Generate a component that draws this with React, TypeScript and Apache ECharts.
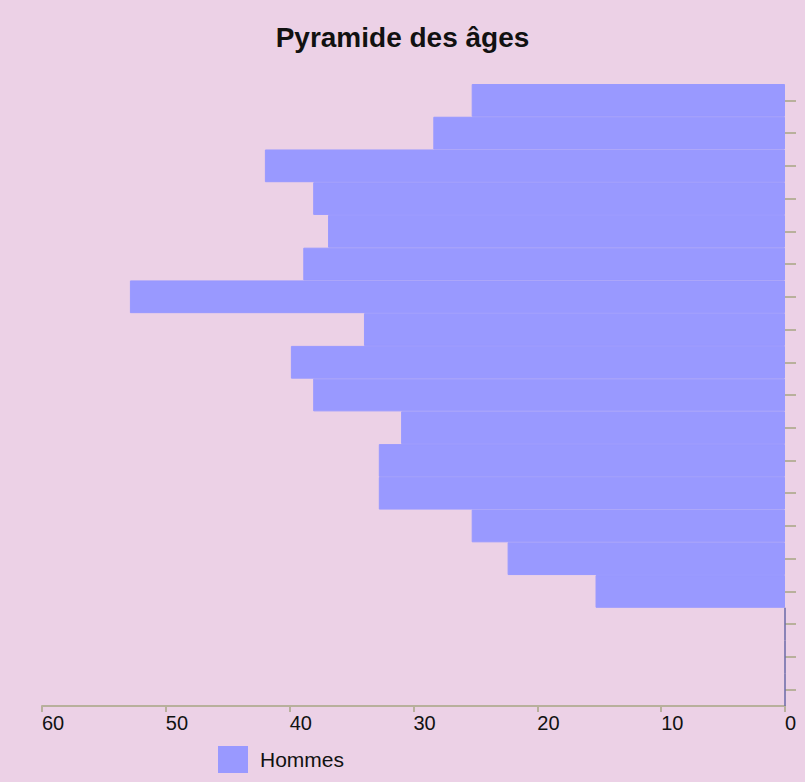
import React, { useEffect, useRef } from "react";
import * as echarts from "echarts";

const ageGroups = [
  "90+", "85-89", "80-84", "75-79", "70-74", "65-69", "60-64", "55-59", "50-54",
  "45-49", "40-44", "35-39", "30-34", "25-29", "20-24", "15-19", "10-14", "5-9", "0-4",
];
const hommes = [25.3, 28.4, 42.0, 38.1, 36.9, 38.9, 52.9, 34.0, 39.9, 38.1, 31.0, 32.8, 32.8, 25.3, 22.4, 15.3, 0, 0, 0];
const xTicks = [0, 10, 20, 30, 40, 50, 60];

const FONT = "Liberation Sans, Arial, sans-serif";

export default function App() {
  const ref = useRef<HTMLDivElement>(null);
  useEffect(() => {
    if (!ref.current) return;
    const chart = echarts.init(ref.current, undefined, { renderer: "svg" });
    chart.setOption({
      animation: false,
      backgroundColor: "#ecd1e6",
      title: {
        text: "Pyramide des âges",
        left: "center",
        top: 18,
        textStyle: {
          fontFamily: FONT,
          fontWeight: "bold",
          fontSize: 28,
          color: "#111",
          textShadowColor: "#ffffff",
          textShadowOffsetX: 1,
          textShadowOffsetY: 1,
          textShadowBlur: 0,
        },
      },
      legend: {
        left: 213,
        top: 741,
        icon: "rect",
        itemWidth: 28,
        itemHeight: 25,
        itemGap: 12,
        textStyle: { fontFamily: FONT, fontSize: 21, color: "#111", padding: [0, 0, 0, 8] },
        data: ["Hommes"],
      },
      grid: { left: 42, right: 20, top: 84, bottom: 76, containLabel: false },
      xAxis: {
        type: "value",
        inverse: true,
        min: xTicks[0],
        max: xTicks[xTicks.length - 1],
        interval: 10,
        axisLine: { show: true, lineStyle: { color: "#b8b09c", width: 2 } },
        axisTick: { show: true, length: 6, lineStyle: { color: "#b8b09c", width: 2 } },
        splitLine: { show: false },
        axisLabel: {
          fontFamily: FONT,
          fontSize: 20,
          color: "#111",
          margin: 7,
          align: "left",
        },
      },
      yAxis: {
        type: "category",
        inverse: true,
        position: "right",
        data: ageGroups,
        axisLine: { show: false },
        axisTick: { show: true, alignWithLabel: true, length: 11, lineStyle: { color: "#b8b09c", width: 2 } },
        axisLabel: { show: false },
        splitLine: { show: false },
      },
      series: [
        {
          name: "Hommes",
          type: "bar",
          barCategoryGap: "0%",
          itemStyle: { color: "#9999ff", borderColor: "#9999ff", borderWidth: 1 },
          data: hommes.map((v) =>
            v === 0
              ? { value: v, itemStyle: { color: "#6a6aa8", borderColor: "#6a6aa8", borderWidth: 1.5 } }
              : v
          ),
        },
      ],
    });
    return () => chart.dispose();
  }, []);
  return <div ref={ref} style={{ position: "absolute", left: 0, top: 0, width: 805, height: 782 }} />;
}
